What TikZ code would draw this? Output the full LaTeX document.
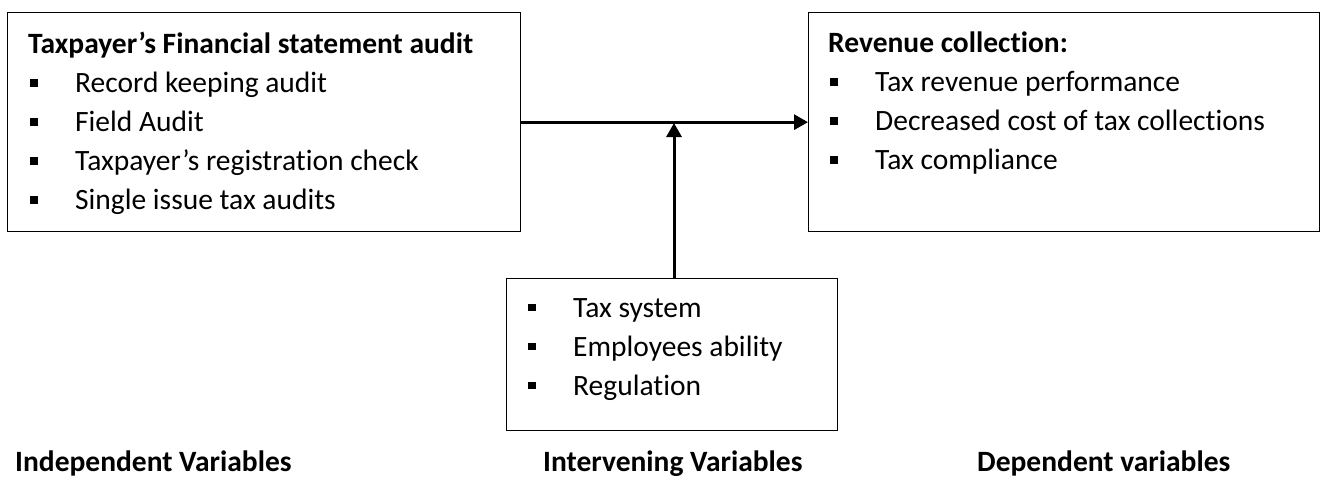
\documentclass[tikz,border=0pt]{standalone}
\usepackage{fontspec}
\setmainfont{Carlito}[Ligatures=NoCommon]
\usetikzlibrary{arrows.meta,positioning}
\newcommand{\sqbullet}{\makebox[47pt][l]{\hspace{2pt}\raisebox{6pt}{\rule{7.5pt}{7.5pt}}}}

\begin{document}
\begin{tikzpicture}[
x=1pt, y=-1pt, font=\fontsize{29.5}{39}\selectfont,
varbox/.style={draw=black, line width=1.3pt, anchor=north west, inner sep=0pt},
itemlist/.style={align=left, inner sep=0pt},
caption/.style={font=\fontsize{29.5}{39}\selectfont\bfseries, anchor=base west, inner sep=0pt},
link/.style={line width=3pt, -{Triangle[length=14pt,width=15pt]}},
]
\useasboundingbox (0,0) rectangle (1321,477);

\node[varbox, minimum width=513pt, minimum height=219pt] (indep) at (7,12) {};
\node[varbox, minimum width=511pt, minimum height=219pt] (dep) at (808,12) {};
\node[varbox, minimum width=331pt, minimum height=152pt] (interv) at (506,278) {};

\node[itemlist, below right=20pt and 21pt of indep.north west] (indeplist) {\textbf{Taxpayer’s Financial statement audit}\\
  \sqbullet Record keeping audit\\
  \sqbullet Field Audit\\
  \sqbullet Taxpayer’s registration check\\
  \sqbullet Single issue tax audits};
\node[itemlist, below right=20pt and 20pt of dep.north west] (deplist) {\textbf{Revenue collection:}\\
  \sqbullet Tax revenue performance\\
  \sqbullet Decreased cost of tax collections\\
  \sqbullet Tax compliance};
\node[itemlist, below right=20pt and 20pt of interv.north west] (intervlist) {\sqbullet Tax system\\
  \sqbullet Employees ability\\
  \sqbullet Regulation};

\node[caption] (indeplabel) at (15,471) {Independent Variables};
\node[caption] (intervlabel) at (543,471) {Intervening Variables};
\node[caption] (deplabel) at (977,471) {Dependent variables};

\draw[link] (indep.east) -- (dep.west);
\coordinate (meet) at (674,123);
\draw[link] (interv.north -| meet) -- (meet);

\end{tikzpicture}
\end{document}
